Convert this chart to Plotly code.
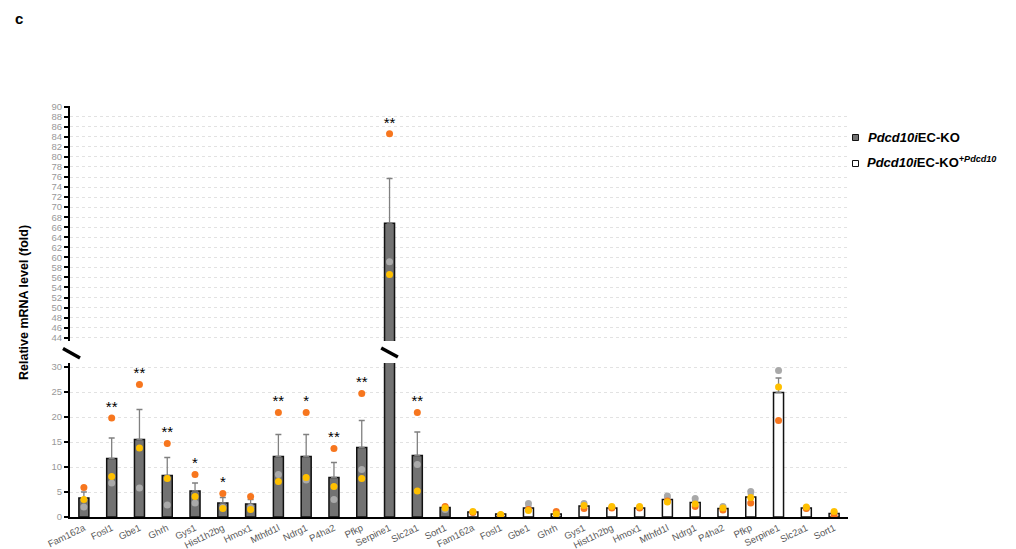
import plotly.graph_objects as go

genes = ["Fam162a", "Fosl1", "Gbe1", "Ghrh", "Gys1", "Hist1h2bg", "Hmox1",
         "Mthfd1l", "Ndrg1", "P4ha2", "Pfkp", "Serpine1", "Slc2a1", "Sort1"]

# Pdcd10iEC-KO
ko_mean = [3.8, 11.7, 15.5, 8.3, 5.2, 2.8, 2.6, 12.1, 12.1, 7.9, 13.9, 66.8, 12.3, 1.9]
ko_sem = [1.2, 4.1, 6.0, 3.6, 1.6, 1.1, 0.9, 4.4, 4.4, 3.0, 5.4, 8.9, 4.7, 0.4]
ko_orange = [5.9, 19.8, 26.5, 14.7, 8.5, 4.7, 4.1, 20.9, 20.9, 13.7, 24.7, 84.6, 20.9, 2.1]
ko_yellow = [3.5, 8.1, 13.8, 7.7, 4.1, 1.7, 1.5, 7.1, 7.9, 6.1, 7.7, 56.6, 5.2, 1.8]
ko_grey = [2.0, 6.8, 5.8, 2.4, 2.8, 1.9, 1.9, 8.5, 7.4, 3.5, 9.5, 59.1, 10.5, 1.5]
ko_stars = ["", "**", "**", "**", "*", "*", "", "**", "*", "**", "**", "**", "**", ""]

# Pdcd10iEC-KO+Pdcd10
re_mean = [1.0, 0.6, 1.8, 0.6, 2.2, 1.8, 1.8, 3.5, 2.9, 1.7, 4.0, 24.9, 1.8, 0.7]
re_sem = [0.1, 0.1, 0.4, 0.2, 0.4, 0.1, 0.1, 0.4, 0.4, 0.2, 0.6, 2.9, 0.1, 0.3]
re_orange = [0.9, 0.4, 1.5, 1.1, 1.7, 1.8, 1.8, 3.2, 2.1, 1.4, 2.8, 19.3, 1.7, 0.2]
re_yellow = [1.1, 0.5, 1.3, 0.6, 2.3, 2.1, 2.1, 3.0, 2.6, 1.8, 3.9, 26.0, 2.0, 1.1]
re_grey = [1.0, 0.3, 2.7, 0.4, 2.7, 1.9, 1.9, 4.2, 3.7, 2.1, 5.1, 29.3, 1.8, 0.8]
re_stars = ["", "", "", "", "", "", "", "", "", "", "", "**", "", ""]

y_low_ticks = [0, 5, 10, 15, 20, 25, 30]
y_up_ticks = list(range(44, 91, 2))

FONT = "Arial, Liberation Sans, sans-serif"
C_KO = "#727272"
C_OR = "#F7761E"
C_YE = "#FFC000"
C_GR = "#A9A9A9"

n = len(genes)
x_ko = list(range(n))
x_re = [n + i for i in range(n)]
xs = x_ko + x_re
means = ko_mean + re_mean
sems = ko_sem + re_sem
fills = [C_KO] * n + ["white"] * n
stars = ko_stars + re_stars
pts = [ko_orange + re_orange, ko_yellow + re_yellow, ko_grey + re_grey]

# pixel layout
L, R, T, B = 70, 848, 106, 517
W, H = 1016, 549
PH = B - T


def px(x):
    return (x - L) / (R - L)


def py(y):
    return (B - y) / PH


LOW_TOP = 363
UP_BOT = 341
low_range = [0, (B - LOW_TOP) / 5.0]
up_range = [44 - (UP_BOT - 337.7) / 5.022, 90 + (106.7 - T) / 5.022]

fig = go.Figure()

for yax in ["y", "y2"]:
    fig.add_trace(go.Bar(
        x=xs, y=means, yaxis=yax, width=0.36,
        marker=dict(color=fills, line=dict(color="#111111", width=1.5)),
        error_y=dict(type="data", symmetric=False, array=sems,
                     arrayminus=[0] * len(sems), color="#808080",
                     thickness=1.3, width=3),
        showlegend=False, hoverinfo="skip"))
    for vals, col in zip([pts[2], pts[0], pts[1]], [C_GR, C_OR, C_YE]):
        fig.add_trace(go.Scatter(
            x=xs, y=vals, yaxis=yax, mode="markers",
            marker=dict(color=col, size=7, line=dict(width=0)),
            showlegend=False, hoverinfo="skip"))

# significance stars
sx_lo, sy_lo, st_lo, sx_up, sy_up, st_up = [], [], [], [], [], []
for i, s in enumerate(stars):
    if not s:
        continue
    top = max(means[i] + sems[i], pts[0][i], pts[1][i], pts[2][i]) + 2.0
    if top > 40:
        sx_up.append(xs[i]); sy_up.append(top); st_up.append(s)
    else:
        sx_lo.append(xs[i]); sy_lo.append(top); st_lo.append(s)
fig.add_trace(go.Scatter(x=sx_lo, y=sy_lo, text=st_lo, mode="text", yaxis="y",
                         textfont=dict(family=FONT, size=15, color="black"),
                         cliponaxis=False, showlegend=False, hoverinfo="skip"))
fig.add_trace(go.Scatter(x=sx_up, y=sy_up, text=st_up, mode="text", yaxis="y2",
                         textfont=dict(family=FONT, size=15, color="black"),
                         cliponaxis=False, showlegend=False, hoverinfo="skip"))

axis_common = dict(showline=True, linecolor="black", linewidth=2,
                   ticks="outside", ticklen=4, tickwidth=2, tickcolor="black",
                   tickfont=dict(family=FONT, size=9.5, color="#999999"),
                   showgrid=True, gridcolor="#e2e2e2", gridwidth=1, griddash="dot",
                   zeroline=False, fixedrange=True)

fig.update_layout(
    width=W, height=H,
    margin=dict(l=L, r=W - R, t=T, b=H - B, autoexpand=False),
    paper_bgcolor="white", plot_bgcolor="white",
    barmode="overlay",
    xaxis=dict(domain=[0, 1], anchor="y", range=[-0.5, 2 * n - 0.5],
               tickmode="array", tickvals=xs, ticktext=genes + genes,
               tickangle=-26, ticks="", showline=True, linecolor="black",
               linewidth=2, showgrid=False, zeroline=False, automargin=False,
               tickfont=dict(family=FONT, size=9.5, color="#595959")),
    yaxis=dict(domain=[0, py(LOW_TOP)], range=low_range, tickmode="array",
               tickvals=y_low_ticks, automargin=False, **axis_common),
    yaxis2=dict(domain=[py(UP_BOT), 1], range=up_range, anchor="x",
                tickmode="array", tickvals=y_up_ticks, automargin=False,
                **axis_common),
    font=dict(family=FONT),
)

shapes = []
# axis break marks
shapes.append(dict(type="line", xref="paper", yref="paper",
                   x0=px(63), y0=py(348.5), x1=px(80), y1=py(358),
                   line=dict(color="black", width=3.5)))
si = genes.index("Serpine1")
shapes.append(dict(type="line", xref="x", yref="paper",
                   x0=x_ko[si] - 0.3, y0=py(348), x1=x_ko[si] + 0.3, y1=py(357),
                   line=dict(color="black", width=3.5)))
# legend squares
shapes.append(dict(type="rect", xref="paper", yref="paper",
                   x0=px(852.5), x1=px(858.5), y0=py(134.5), y1=py(140.5),
                   fillcolor=C_KO, line=dict(color="#111111", width=1)))
shapes.append(dict(type="rect", xref="paper", yref="paper",
                   x0=px(852.5), x1=px(858.5), y0=py(160.5), y1=py(166.5),
                   fillcolor="white", line=dict(color="#111111", width=1)))
fig.update_layout(shapes=shapes)

annotations = [
    dict(text="<b>c</b>", xref="paper", yref="paper", x=px(13), y=py(18),
         xanchor="left", yanchor="middle", showarrow=False,
         font=dict(family=FONT, size=15, color="black")),
    dict(text="<b>Relative mRNA level (fold)</b>", xref="paper", yref="paper",
         x=px(24), y=py(303), textangle=-90, xanchor="center", yanchor="middle",
         showarrow=False, font=dict(family=FONT, size=12.5, color="black")),
    dict(text="<b><i>Pdcd10i</i>EC-KO</b>", xref="paper", yref="paper",
         x=px(866), y=py(137.5), xanchor="left", yanchor="middle", showarrow=False,
         font=dict(family=FONT, size=13, color="black")),
    dict(text="<b><i>Pdcd10i</i>EC-KO<sup><i>+Pdcd10</i></sup></b>", xref="paper",
         yref="paper", x=px(865), y=py(162), xanchor="left", yanchor="middle",
         showarrow=False, font=dict(family=FONT, size=13, color="black")),
]
fig.update_layout(annotations=annotations)

fig.write_html("out.html")
